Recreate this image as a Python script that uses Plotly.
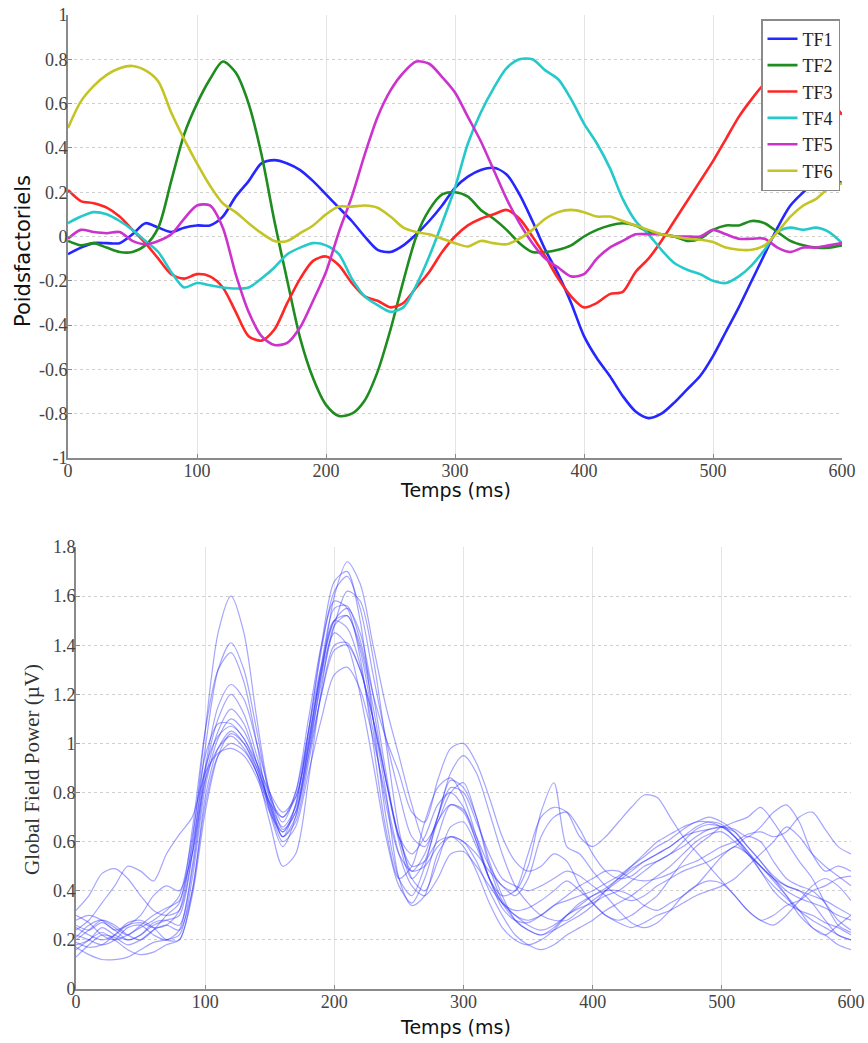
import plotly.graph_objects as go

# ---------------- Top chart data (time in ms, factor weights) ----------------
t_top = list(range(0, 601, 10))

tf1 = [-0.08, -0.05, -0.03, -0.03, -0.03, 0.01, 0.06, 0.04, 0.02, 0.04,
       0.05, 0.05, 0.09, 0.18, 0.25, 0.33, 0.345, 0.33, 0.30, 0.25,
       0.19, 0.13, 0.07, 0.0, -0.06, -0.07, -0.04, 0.01, 0.07, 0.14,
       0.22, 0.27, 0.30, 0.31, 0.28, 0.19, 0.07, -0.06, -0.17, -0.30,
       -0.45, -0.55, -0.63, -0.72, -0.79, -0.82, -0.80, -0.75, -0.69, -0.63,
       -0.54, -0.43, -0.32, -0.20, -0.08, 0.04, 0.14, 0.20, 0.25, 0.27, 0.24]
tf2 = [-0.02, -0.04, -0.03, -0.05, -0.07, -0.07, -0.04, 0.04, 0.25, 0.46,
       0.60, 0.71, 0.79, 0.74, 0.60, 0.37, 0.07, -0.20, -0.46, -0.64,
       -0.76, -0.81, -0.80, -0.74, -0.61, -0.42, -0.20, 0.0, 0.12, 0.19,
       0.20, 0.18, 0.12, 0.08, 0.03, -0.03, -0.07, -0.07, -0.06, -0.04,
       0.0, 0.03, 0.05, 0.06, 0.05, 0.02, 0.01, 0.0, -0.02, -0.01,
       0.03, 0.05, 0.05, 0.07, 0.06, 0.02, -0.02, -0.04, -0.05, -0.05, -0.04]
tf3 = [0.21, 0.16, 0.15, 0.13, 0.09, 0.03, -0.03, -0.10, -0.17, -0.19,
       -0.17, -0.18, -0.23, -0.34, -0.45, -0.47, -0.42, -0.30, -0.19, -0.11,
       -0.09, -0.13, -0.21, -0.27, -0.29, -0.32, -0.30, -0.23, -0.16, -0.07,
       0.0, 0.05, 0.08, 0.10, 0.12, 0.08, 0.0, -0.09, -0.19, -0.27,
       -0.32, -0.30, -0.26, -0.25, -0.16, -0.10, -0.02, 0.07, 0.16, 0.25,
       0.34, 0.44, 0.54, 0.62, 0.69, 0.72, 0.74, 0.72, 0.68, 0.62, 0.55]
tf4 = [0.06, 0.09, 0.11, 0.10, 0.07, 0.03, -0.02, -0.07, -0.16, -0.23,
       -0.21, -0.22, -0.23, -0.235, -0.23, -0.19, -0.14, -0.08, -0.05, -0.03,
       -0.04, -0.08, -0.19, -0.27, -0.31, -0.34, -0.32, -0.22, -0.09, 0.06,
       0.22, 0.42, 0.56, 0.67, 0.76, 0.80, 0.80, 0.75, 0.71, 0.62,
       0.51, 0.42, 0.31, 0.17, 0.07, 0.01, -0.06, -0.12, -0.15, -0.17,
       -0.20, -0.21, -0.18, -0.13, -0.06, 0.02, 0.04, 0.03, 0.04, 0.02, -0.03]
tf5 = [-0.01, 0.03, 0.02, 0.015, 0.02, -0.02, -0.035, -0.02, 0.01, 0.08,
       0.14, 0.14, 0.04, -0.17, -0.34, -0.45, -0.49, -0.48, -0.41, -0.29,
       -0.16, 0.02, 0.18, 0.37, 0.54, 0.66, 0.74, 0.79, 0.78, 0.72,
       0.65, 0.54, 0.43, 0.30, 0.17, 0.06, -0.03, -0.10, -0.14, -0.18,
       -0.17, -0.10, -0.05, -0.02, 0.01, 0.01, 0.01, 0.0, 0.0, 0.0,
       0.03, 0.01, -0.01, -0.01, -0.01, -0.05, -0.07, -0.05, -0.05, -0.04, -0.03]
tf6 = [0.49, 0.61, 0.68, 0.73, 0.76, 0.77, 0.75, 0.70, 0.56, 0.44,
       0.33, 0.23, 0.15, 0.11, 0.06, 0.015, -0.02, -0.02, 0.015, 0.05,
       0.10, 0.135, 0.135, 0.14, 0.13, 0.09, 0.04, 0.02, 0.01, -0.01,
       -0.03, -0.045, -0.02, -0.03, -0.035, -0.01, 0.03, 0.08, 0.11, 0.12,
       0.11, 0.09, 0.09, 0.07, 0.05, 0.03, 0.01, 0.0, -0.01, -0.015,
       -0.025, -0.05, -0.06, -0.06, -0.04, 0.02, 0.09, 0.14, 0.17, 0.22, 0.24]

tf_names = ["TF1", "TF2", "TF3", "TF4", "TF5", "TF6"]
tf_colors = ["#2626ff", "#1f8c1f", "#ff2626", "#26c9c9", "#cc33cc", "#c4c426"]

# ---------------- Bottom chart data (Global Field Power, µV) ----------------
t_gfp = list(range(0, 601, 10))

gfp_traces = [
    [0.25, 0.22, 0.20, 0.22, 0.26, 0.27, 0.25, 0.26, 0.32, 0.60, 1.05, 1.45, 1.60, 1.45, 1.10, 0.80, 0.68, 0.80, 1.10, 1.40,
     1.58, 1.55, 1.35, 1.00, 0.65, 0.45, 0.50, 0.68, 0.82, 0.86, 0.78, 0.62, 0.45, 0.33, 0.28, 0.27, 0.30, 0.34, 0.36, 0.38,
     0.40, 0.43, 0.46, 0.50, 0.54, 0.58, 0.61, 0.65, 0.68, 0.68, 0.66, 0.62, 0.55, 0.50, 0.45, 0.40, 0.37, 0.35, 0.33, 0.30, 0.28],
    [0.18, 0.20, 0.25, 0.22, 0.20, 0.22, 0.26, 0.28, 0.30, 0.55, 0.98, 1.30, 1.41, 1.30, 1.05, 0.78, 0.62, 0.75, 1.05, 1.40,
     1.66, 1.70, 1.50, 1.10, 0.70, 0.45, 0.38, 0.50, 0.70, 0.85, 0.82, 0.70, 0.52, 0.38, 0.28, 0.24, 0.22, 0.25, 0.30, 0.33,
     0.35, 0.38, 0.40, 0.44, 0.48, 0.52, 0.55, 0.60, 0.65, 0.67, 0.66, 0.64, 0.58, 0.52, 0.46, 0.42, 0.40, 0.35, 0.28, 0.22, 0.20],
    [0.20, 0.24, 0.28, 0.26, 0.22, 0.20, 0.24, 0.30, 0.35, 0.65, 1.05, 1.30, 1.37, 1.25, 1.00, 0.72, 0.58, 0.70, 1.00, 1.30,
     1.50, 1.52, 1.40, 1.15, 0.85, 0.62, 0.55, 0.62, 0.75, 0.80, 0.74, 0.60, 0.45, 0.35, 0.30, 0.26, 0.24, 0.26, 0.30, 0.34,
     0.38, 0.41, 0.45, 0.49, 0.52, 0.55, 0.58, 0.62, 0.66, 0.68, 0.67, 0.62, 0.56, 0.50, 0.45, 0.42, 0.40, 0.38, 0.36, 0.33, 0.30],
    [0.32, 0.38, 0.47, 0.49, 0.45, 0.38, 0.32, 0.30, 0.32, 0.55, 0.90, 1.15, 1.24, 1.18, 1.00, 0.80, 0.65, 0.72, 0.95, 1.20,
     1.38, 1.40, 1.30, 1.10, 0.85, 0.62, 0.50, 0.52, 0.60, 0.62, 0.60, 0.55, 0.48, 0.42, 0.38, 0.45, 0.62, 0.70, 0.72, 0.65,
     0.55, 0.48, 0.45, 0.46, 0.50, 0.52, 0.55, 0.58, 0.62, 0.65, 0.66, 0.62, 0.56, 0.48, 0.40, 0.35, 0.32, 0.30, 0.27, 0.25, 0.22],
    [0.22, 0.20, 0.18, 0.20, 0.25, 0.26, 0.22, 0.20, 0.24, 0.50, 0.88, 1.10, 1.20, 1.12, 0.95, 0.78, 0.70, 0.78, 1.02, 1.30,
     1.50, 1.55, 1.45, 1.20, 0.88, 0.60, 0.45, 0.52, 0.68, 0.75, 0.73, 0.62, 0.50, 0.42, 0.40, 0.50, 0.72, 0.84, 0.58, 0.55,
     0.48, 0.42, 0.38, 0.36, 0.38, 0.42, 0.45, 0.48, 0.50, 0.52, 0.55, 0.58, 0.62, 0.60, 0.52, 0.45, 0.42, 0.40, 0.35, 0.28, 0.24],
    [0.26, 0.24, 0.27, 0.24, 0.20, 0.22, 0.27, 0.28, 0.26, 0.48, 0.85, 1.05, 1.14, 1.08, 0.92, 0.75, 0.64, 0.72, 0.98, 1.28,
     1.45, 1.40, 1.20, 0.92, 0.62, 0.42, 0.35, 0.45, 0.62, 0.75, 0.72, 0.60, 0.45, 0.38, 0.40, 0.55, 0.70, 0.74, 0.72, 0.62,
     0.58, 0.62, 0.68, 0.74, 0.79, 0.78, 0.70, 0.62, 0.56, 0.50, 0.44, 0.38, 0.32, 0.28, 0.30, 0.34, 0.36, 0.40, 0.42, 0.45, 0.46],
    [0.17, 0.14, 0.12, 0.12, 0.13, 0.16, 0.19, 0.20, 0.22, 0.45, 0.82, 1.02, 1.10, 1.05, 0.92, 0.76, 0.66, 0.74, 0.98, 1.25,
     1.48, 1.62, 1.58, 1.35, 1.00, 0.65, 0.45, 0.40, 0.52, 0.66, 0.68, 0.58, 0.45, 0.35, 0.28, 0.24, 0.22, 0.24, 0.27, 0.30,
     0.34, 0.40, 0.45, 0.50, 0.55, 0.60, 0.63, 0.66, 0.68, 0.70, 0.68, 0.64, 0.58, 0.52, 0.45, 0.38, 0.30, 0.25, 0.22, 0.18, 0.16],
    [0.21, 0.26, 0.28, 0.25, 0.22, 0.26, 0.30, 0.33, 0.36, 0.58, 0.90, 1.03, 1.07, 1.02, 0.90, 0.75, 0.62, 0.70, 0.95, 1.28,
     1.60, 1.74, 1.65, 1.40, 1.15, 0.95, 0.75, 0.60, 0.68, 0.80, 0.84, 0.70, 0.50, 0.36, 0.30, 0.28, 0.30, 0.34, 0.38, 0.42,
     0.45, 0.48, 0.48, 0.45, 0.44, 0.45, 0.47, 0.50, 0.52, 0.55, 0.58, 0.60, 0.63, 0.64, 0.62, 0.64, 0.70, 0.72, 0.65, 0.58, 0.55],
    [0.13, 0.18, 0.22, 0.21, 0.18, 0.20, 0.24, 0.26, 0.24, 0.40, 0.78, 0.98, 1.05, 1.00, 0.88, 0.68, 0.50, 0.55, 0.85, 1.22,
     1.48, 1.52, 1.38, 1.10, 0.80, 0.45, 0.34, 0.38, 0.55, 0.62, 0.60, 0.52, 0.40, 0.30, 0.22, 0.18, 0.16, 0.18, 0.22, 0.25,
     0.28, 0.32, 0.35, 0.38, 0.42, 0.46, 0.50, 0.55, 0.60, 0.63, 0.64, 0.60, 0.55, 0.48, 0.42, 0.37, 0.32, 0.28, 0.25, 0.22, 0.20],
    [0.28, 0.30, 0.28, 0.24, 0.26, 0.30, 0.38, 0.42, 0.40, 0.55, 0.85, 0.98, 1.03, 0.98, 0.88, 0.74, 0.62, 0.68, 0.92, 1.20,
     1.40, 1.41, 1.30, 1.10, 0.85, 0.62, 0.48, 0.55, 0.70, 0.82, 0.80, 0.68, 0.55, 0.45, 0.42, 0.40, 0.42, 0.45, 0.48, 0.46,
     0.42, 0.38, 0.32, 0.27, 0.25, 0.27, 0.32, 0.38, 0.42, 0.44, 0.43, 0.38, 0.32, 0.28, 0.26, 0.30, 0.36, 0.42, 0.45, 0.42, 0.36],
    [0.19, 0.17, 0.18, 0.22, 0.27, 0.28, 0.25, 0.20, 0.20, 0.40, 0.75, 0.95, 1.00, 0.97, 0.88, 0.73, 0.60, 0.66, 0.88, 1.10,
     1.28, 1.31, 1.22, 1.02, 0.78, 0.55, 0.42, 0.38, 0.45, 0.55, 0.56, 0.50, 0.42, 0.35, 0.32, 0.33, 0.36, 0.40, 0.44, 0.40,
     0.35, 0.30, 0.27, 0.25, 0.27, 0.30, 0.32, 0.35, 0.38, 0.40, 0.42, 0.45, 0.50, 0.55, 0.60, 0.66, 0.62, 0.55, 0.50, 0.46, 0.42],
    [0.24, 0.28, 0.35, 0.42, 0.50, 0.48, 0.44, 0.55, 0.63, 0.70, 0.88, 0.96, 0.98, 0.95, 0.86, 0.72, 0.64, 0.75, 1.05, 1.38,
     1.62, 1.68, 1.55, 1.28, 1.02, 0.80, 0.62, 0.58, 0.70, 0.88, 0.95, 0.88, 0.72, 0.55, 0.42, 0.35, 0.30, 0.28, 0.28, 0.32,
     0.36, 0.40, 0.44, 0.48, 0.52, 0.55, 0.58, 0.62, 0.64, 0.65, 0.66, 0.68, 0.70, 0.74, 0.68, 0.60, 0.52, 0.45, 0.35, 0.26, 0.23],
    [0.30, 0.27, 0.22, 0.20, 0.22, 0.25, 0.28, 0.32, 0.38, 0.62, 0.95, 1.08, 1.08, 1.02, 0.92, 0.80, 0.72, 0.78, 1.00, 1.32,
     1.55, 1.56, 1.42, 1.20, 1.02, 0.88, 0.72, 0.68, 0.85, 0.98, 1.00, 0.92, 0.78, 0.62, 0.52, 0.48, 0.50, 0.55, 0.52, 0.42,
     0.35, 0.30, 0.28, 0.30, 0.34, 0.38, 0.45, 0.52, 0.58, 0.62, 0.66, 0.65, 0.62, 0.66, 0.72, 0.75, 0.68, 0.55, 0.48, 0.50, 0.48],
    [0.16, 0.20, 0.23, 0.20, 0.16, 0.14, 0.15, 0.18, 0.20, 0.38, 0.72, 0.95, 1.04, 1.00, 0.90, 0.76, 0.70, 0.80, 1.05, 1.32,
     1.50, 1.47, 1.32, 1.05, 0.75, 0.55, 0.48, 0.50, 0.58, 0.62, 0.58, 0.48, 0.35, 0.25, 0.20, 0.18, 0.20, 0.24, 0.30, 0.35,
     0.38, 0.40, 0.40, 0.38, 0.34, 0.32, 0.35, 0.38, 0.42, 0.48, 0.54, 0.58, 0.55, 0.50, 0.44, 0.38, 0.32, 0.25, 0.22, 0.26, 0.30],
]

top_ytick_vals = [-1, -0.8, -0.6, -0.4, -0.2, 0, 0.2, 0.4, 0.6, 0.8, 1]
top_ytick_text = ["-1", "-0.8", "-0.6", "-0.4", "-0.2", "0", "0.2", "0.4", "0.6", "0.8", "1"]
bot_ytick_vals = [0, 0.2, 0.4, 0.6, 0.8, 1, 1.2, 1.4, 1.6, 1.8]
bot_ytick_text = ["0", "0.2", "0.4", "0.6", "0.8", "1", "1.2", "1.4", "1.6", "1.8"]
xtick_vals = [0, 100, 200, 300, 400, 500, 600]

W, H = 868, 1043
SERIF = "Liberation Serif, Times New Roman, serif"
SANS = "DejaVu Sans, Verdana, sans-serif"


def px_x(p):
    return p / W


def px_y(p):
    return 1 - p / H


fig = go.Figure()

for name, col, ys in zip(tf_names, tf_colors, [tf1, tf2, tf3, tf4, tf5, tf6]):
    fig.add_trace(go.Scatter(x=t_top, y=ys, mode="lines", name=name,
                             line=dict(color=col, width=2.6, shape="spline", smoothing=0.8),
                             xaxis="x", yaxis="y"))

for ys in gfp_traces:
    fig.add_trace(go.Scatter(x=t_gfp, y=ys, mode="lines", showlegend=False,
                             line=dict(color="rgba(40,40,255,0.42)", width=1.2,
                                       shape="spline", smoothing=0.8),
                             xaxis="x2", yaxis="y2"))

axis_common = dict(
    showline=True, linecolor="#8a8a8a", linewidth=1.8,
    ticks="inside", ticklen=4, tickcolor="#8a8a8a",
    tickfont=dict(family=SERIF, size=18, color="#444444"),
    ticklabelstandoff=-5, ticklabeloverflow="allow",
    zeroline=False, showgrid=True,
)

fig.update_layout(
    width=W, height=H, autosize=False,
    margin=dict(l=0, r=0, t=0, b=0, pad=0, autoexpand=False),
    paper_bgcolor="white", plot_bgcolor="white",
    xaxis=dict(domain=[px_x(68), px_x(842)], anchor="y", range=[0, 600],
               tickvals=xtick_vals, gridcolor="#e4e4e4", **axis_common),
    yaxis=dict(domain=[px_y(458), px_y(15)], anchor="x", range=[-1, 1],
               tickvals=top_ytick_vals, ticktext=top_ytick_text,
               gridcolor="#cfcfcf", griddash="dot", **axis_common),
    xaxis2=dict(domain=[px_x(76), px_x(851)], anchor="y2", range=[0, 600],
                tickvals=xtick_vals, gridcolor="#e4e4e4", **axis_common),
    yaxis2=dict(domain=[px_y(989), px_y(547)], anchor="x2", range=[0, 1.8],
                tickvals=bot_ytick_vals, ticktext=bot_ytick_text,
                gridcolor="#cfcfcf", griddash="dot", **axis_common),
    legend=dict(x=px_x(840), y=px_y(19), xanchor="right", yanchor="top",
                bgcolor="white", bordercolor="#8a8a8a", borderwidth=1.5,
                font=dict(family=SERIF, size=18, color="#222222"),
                tracegroupgap=0, itemwidth=30),
    showlegend=True,
    annotations=[
        dict(text="Temps (ms)", x=px_x(455), y=px_y(490), xref="paper", yref="paper",
             xanchor="center", yanchor="middle",
             showarrow=False, font=dict(family=SANS, size=19, color="#111111")),
        dict(text="Poidsfactoriels", x=px_x(23), y=px_y(251), xref="paper", yref="paper",
             xanchor="center", yanchor="middle",
             showarrow=False, textangle=-90, font=dict(family=SANS, size=21, color="#111111")),
        dict(text="Temps (ms)", x=px_x(455), y=px_y(1027), xref="paper", yref="paper",
             xanchor="center", yanchor="middle",
             showarrow=False, font=dict(family=SANS, size=19, color="#111111")),
        dict(text="Global Field Power (µV)", x=px_x(32), y=px_y(770), xref="paper", yref="paper",
             xanchor="center", yanchor="middle",
             showarrow=False, textangle=-90, font=dict(family=SERIF, size=21, color="#333333")),
    ],
)

fig.write_html("out.html", config={"displayModeBar": False},
               post_script="document.body.style.margin='0';document.body.style.overflow='hidden';")
